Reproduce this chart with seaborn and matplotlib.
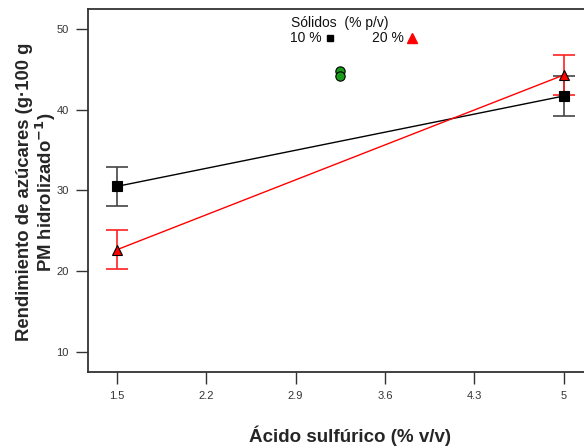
import pandas as pd
import seaborn as sns
import matplotlib.pyplot as plt
from matplotlib.lines import Line2D

# Data
acido = [1.5, 5.0]
solidos_10 = [30.5, 41.7]
error_10 = [2.4, 2.45]
solidos_20 = [22.65, 44.3]
error_20 = [2.42, 2.45]
centro_x = [3.25, 3.25]
centro_y = [44.8, 44.2]
xticks = [1.5, 2.2, 2.9, 3.6, 4.3, 5]
yticks = [10, 20, 30, 40, 50]


def main():
    sns.set_theme(style="white")
    plt.rcParams['font.family'] = ['Liberation Sans', 'DejaVu Sans']

    df = pd.DataFrame({
        'acido': acido * 2,
        'rend': solidos_10 + solidos_20,
        'err': error_10 + error_20,
        'solidos': ['10 %'] * 2 + ['20 %'] * 2,
    })
    colores = {'10 %': 'black', '20 %': '#ff0000'}
    err_colores = {'10 %': '#444444', '20 %': '#ff2020'}

    fig = plt.figure(figsize=(5.84, 4.47), dpi=100)
    ax = fig.add_axes([0.150, 0.168, 0.85, 0.812])

    # error bars under the markers
    for key, sub in df.groupby('solidos'):
        ax.errorbar(sub['acido'], sub['rend'], yerr=sub['err'], fmt='none',
                    ecolor=err_colores[key], elinewidth=1.2, capsize=8, capthick=1.2, zorder=2)

    sns.lineplot(data=df, x='acido', y='rend', hue='solidos', style='solidos',
                 palette=colores, markers={'10 %': 's', '20 %': '^'}, dashes=False,
                 markersize=7.5, markeredgecolor='black', markeredgewidth=0.8,
                 linewidth=1, legend=False, ax=ax, zorder=3)

    # central points
    sns.scatterplot(x=centro_x, y=centro_y, color='#1a9a1a', edgecolor='black',
                    linewidth=0.8, s=45, ax=ax, zorder=4)

    ax.set_xlim(1.27, 5.16)
    ax.set_ylim(7.5, 52.5)
    ax.set_xticks(xticks)
    ax.set_xticklabels(['1.5', '2.2', '2.9', '3.6', '4.3', '5'])
    ax.set_yticks(yticks)

    ax.set_xlabel('')
    ax.set_ylabel('')
    fig.text(350 / 584, 1 - 436 / 447, 'Ácido sulfúrico (% v/v)', fontsize=13.5,
             fontweight='bold', ha='center', va='center')
    fig.text(37 / 584, 1 - 192 / 447,
             'Rendimiento de azúcares (g·100 g\nPM hidrolizado$^{\\mathbf{-1}}$)',
             fontsize=13.3, fontweight='bold', ha='center', va='center',
             rotation=90, linespacing=1.05, multialignment='center')

    ax.spines['right'].set_visible(False)
    for s in ['left', 'bottom', 'top']:
        ax.spines[s].set_color('#333333')
        ax.spines[s].set_linewidth(1.3)
    ax.tick_params(axis='both', direction='out', length=8.5, width=1, color='#333333',
                   labelsize=8, labelcolor='#333333', pad=5,
                   left=True, bottom=True)

    # legend: title as text, entries as a one-row legend
    fig.text(340 / 584, 1 - 23 / 447, 'Sólidos  (% p/v)', fontsize=10,
             ha='center', va='center', color='#111111')
    handles = [Line2D([], [], color='black', marker='s', linestyle='none', markersize=4),
               Line2D([], [], color='#ff0000', marker='^', linestyle='none', markersize=6.5)]
    ax.legend(handles, ['10 %', '20 %'], ncol=2, markerfirst=False, frameon=False,
              fontsize=10, loc='center', bbox_to_anchor=(354 / 584, 1 - 38.5 / 447),
              bbox_transform=fig.transFigure, columnspacing=2.6, handletextpad=0.2,
              handlelength=0.8, borderpad=0, labelcolor='#111111')

    plt.savefig('out.png', dpi=100)


if __name__ == "__main__":
    main()
